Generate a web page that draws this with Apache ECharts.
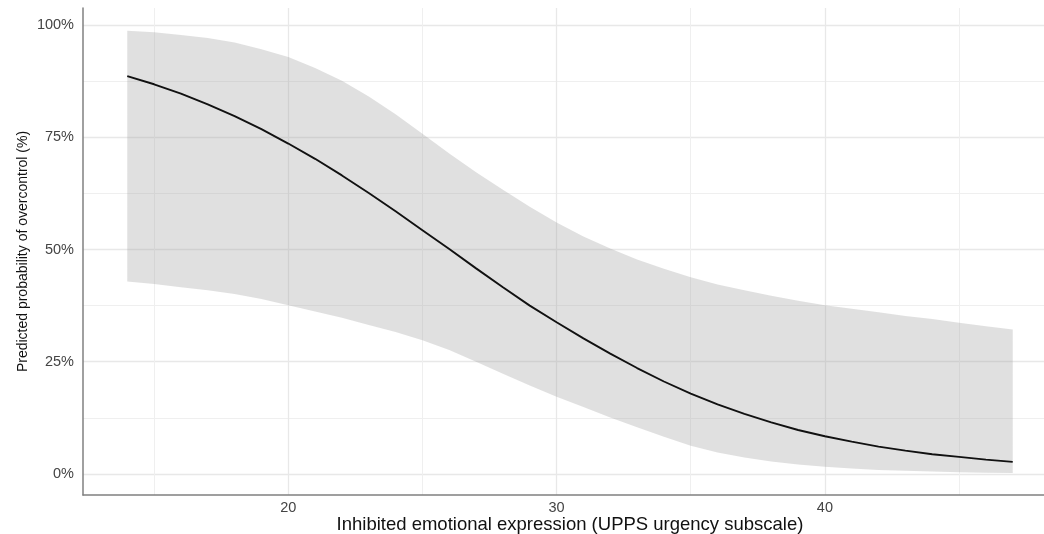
<!DOCTYPE html>
<html>
<head>
<meta charset="utf-8">
<script src="https://cdn.jsdelivr.net/npm/echarts@6/dist/echarts.min.js"></script>
<style>
  html, body { margin: 0; padding: 0; background: #fff; }
  #chart { width: 1044px; height: 534px; }
</style>
</head>
<body>
<div id="chart"></div>
<script>
// UPPS urgency scores
const xs = [14, 15, 16, 17, 18, 19, 20, 21, 22, 23, 24, 25, 26, 27, 28, 29, 30,
  31, 32, 33, 34, 35, 36, 37, 38, 39, 40, 41, 42, 43, 44, 45, 46, 47];
// predicted probability (%)
const predicted = [88.6, 86.8, 84.7, 82.3, 79.7, 76.8, 73.6, 70.2, 66.5, 62.6, 58.5, 54.3, 50.1,
  45.8, 41.6, 37.5, 33.8, 30.2, 26.8, 23.6, 20.6, 17.9, 15.5, 13.4, 11.5, 9.8, 8.4, 7.2, 6.1,
  5.2, 4.4, 3.8, 3.2, 2.7];
// confidence band (%)
const lower = [42.9, 42.3, 41.6, 40.9, 40.1, 39.0, 37.6, 36.2, 34.8, 33.2, 31.6, 29.8, 27.6,
  25.0, 22.3, 19.7, 17.2, 14.9, 12.6, 10.4, 8.3, 6.3, 4.8, 3.7, 2.8, 2.1, 1.6, 1.2, 0.9,
  0.7, 0.55, 0.4, 0.3, 0.2];
const upper = [98.7, 98.4, 97.8, 97.1, 96.1, 94.6, 92.9, 90.4, 87.6, 84.1, 80.1, 75.8, 71.4,
  67.2, 63.3, 59.5, 56.0, 52.9, 50.2, 47.8, 45.7, 43.8, 42.2, 40.9, 39.7, 38.6, 37.6, 36.8,
  36.0, 35.2, 34.5, 33.7, 32.9, 32.2];

const xTicks = [20, 30, 40];
const xMinor = [15, 25, 35, 45];
const yTicks = [0, 25, 50, 75, 100];
const yMinor = [12.5, 37.5, 62.5, 87.5];

const FONT = '"Liberation Sans", Arial, Helvetica, sans-serif';

const chart = echarts.init(document.getElementById('chart'));

const xRange = { min: 12.35, max: 48.65 };
const yRange = { min: -4.68, max: 103.79 };

// ribbon: one polygon, upper edge left->right then lower edge right->left
function renderBand(params, api) {
  if (params.dataIndex !== 0) return null;
  const pts = [];
  for (let i = 0; i < xs.length; i++) pts.push(api.coord([xs[i], upper[i]]));
  for (let i = xs.length - 1; i >= 0; i--) pts.push(api.coord([xs[i], lower[i]]));
  return {
    type: 'polygon',
    shape: { points: pts },
    style: { fill: 'rgba(153,153,153,0.3)' },
    silent: true
  };
}

const option = {
  animation: false,
  grid: { left: 83, top: 8, width: 974, bottom: 39, outerBoundsMode: 'none', containLabel: false },
  xAxis: [
    {
      type: 'value', ...xRange, position: 'bottom',
      name: 'Inhibited emotional expression (UPPS urgency subscale)',
      nameLocation: 'middle', nameGap: 20, nameMoveOverlap: false,
      nameTextStyle: { fontFamily: FONT, fontSize: 18.5, color: '#111' },
      axisLine: { show: true, onZero: false, lineStyle: { color: '#808080', width: 1.5 } },
      axisTick: { show: false, customValues: xTicks },
      axisLabel: { customValues: xTicks, margin: 5, fontFamily: FONT, fontSize: 14.5, color: '#444' },
      splitLine: { show: true, lineStyle: { color: '#e8e8e8', width: 1.3 } }
    },
    {
      type: 'value', ...xRange, position: 'bottom',
      axisLine: { show: false },
      axisTick: { show: false, customValues: xMinor },
      axisLabel: { show: false, customValues: xMinor },
      splitLine: { show: true, lineStyle: { color: '#efefef', width: 1 } }
    }
  ],
  yAxis: [
    {
      type: 'value', ...yRange, position: 'left',
      name: 'Predicted probability of overcontrol (%)',
      nameLocation: 'middle', nameGap: 53, nameMoveOverlap: false,
      nameTextStyle: { fontFamily: FONT, fontSize: 14, color: '#111' },
      axisLine: { show: true, onZero: false, lineStyle: { color: '#808080', width: 1.5 } },
      axisTick: { show: false, customValues: yTicks },
      axisLabel: {
        customValues: yTicks, margin: 9, fontFamily: FONT, fontSize: 14.5, color: '#444',
        formatter: (v) => v + '%'
      },
      splitLine: { show: true, lineStyle: { color: '#e8e8e8', width: 1.3 } }
    },
    {
      type: 'value', ...yRange, position: 'left',
      axisLine: { show: false },
      axisTick: { show: false, customValues: yMinor },
      axisLabel: { show: false, customValues: yMinor },
      splitLine: { show: true, lineStyle: { color: '#efefef', width: 1 } }
    }
  ],
  series: [
    {
      name: 'band',
      type: 'custom',
      renderItem: renderBand,
      data: xs.map((x, i) => [x, lower[i], upper[i]]),
      encode: { x: 0, y: [1, 2] },
      clip: true,
      z: 2
    },
    {
      name: 'predicted',
      type: 'line',
      data: xs.map((x, i) => [x, predicted[i]]),
      showSymbol: false,
      lineStyle: { color: '#111', width: 1.9 },
      z: 5
    }
  ]
};

chart.setOption(option);
</script>
</body>
</html>
